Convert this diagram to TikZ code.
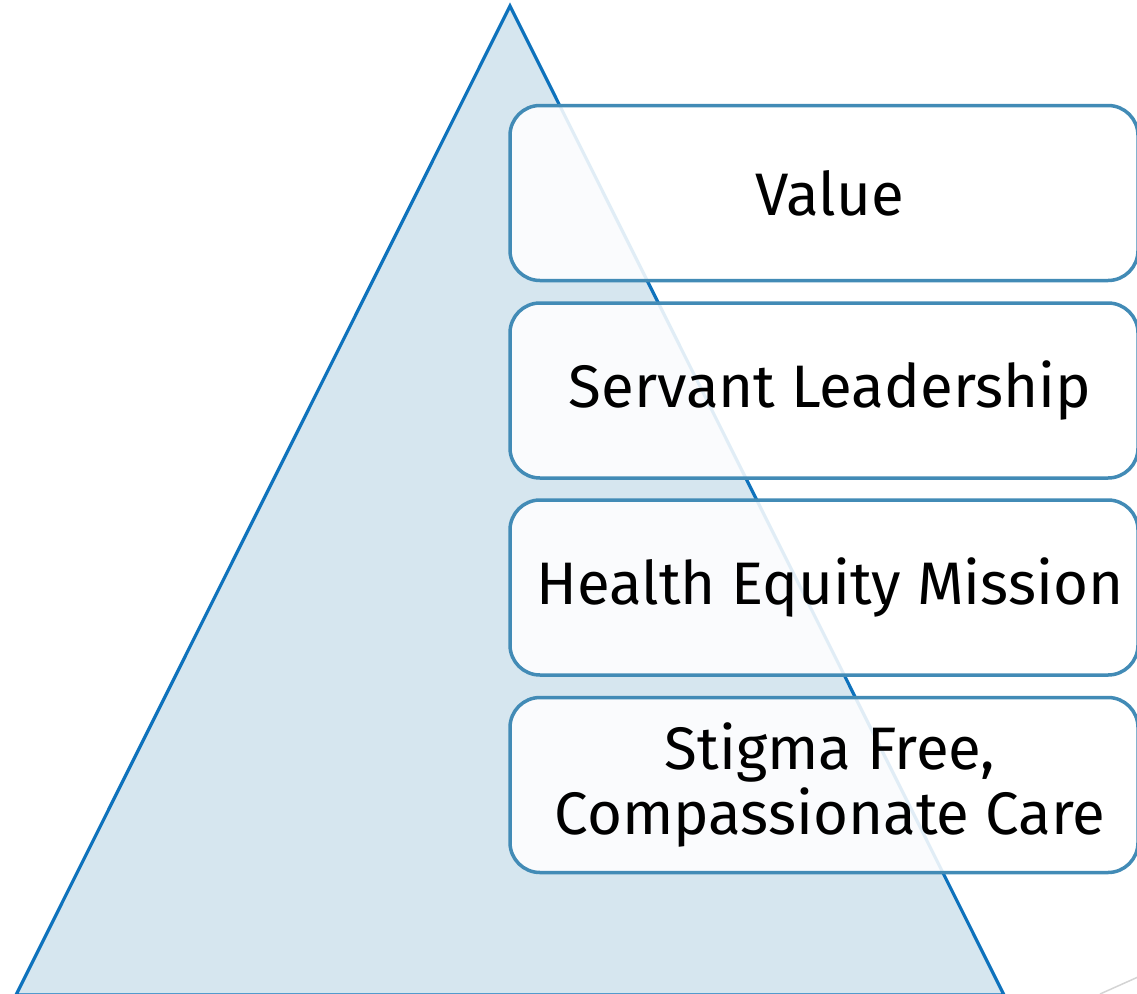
\documentclass[tikz,border=0pt]{standalone}
\usepackage{fontspec}
\setmainfont{Fira Sans}
\definecolor{pyrfill}{HTML}{D6E6EF}
\definecolor{pyredge}{HTML}{0E72BC}
\definecolor{boxedge}{HTML}{428BB6}
\definecolor{faint}{HTML}{D4D4D4}
\tikzset{
  tier/.style={draw=boxedge, line width=3.5pt, rounded corners=30pt,
    fill=white, fill opacity=0.88,
    minimum width=628pt, minimum height=175pt, inner sep=0pt},
  tiertext/.style={align=center, inner sep=0pt,
    font=\fontsize{60}{65}\selectfont},
}
\begin{document}
\begin{tikzpicture}[x=1pt,y=-1pt]
\useasboundingbox (0,0) rectangle (1137,993);
\clip (0,0) rectangle (1137,993);
% pyramid
\draw[fill=pyrfill, draw=pyredge, line width=3.2pt, line join=miter]
  (510,6) coordinate (apex) -- (1004,995) coordinate (br) -- (16,995) coordinate (bl) -- cycle;
% tiers
\node[tier] (t1) at (824,193) {};
\node[tier] (t2) at (824,390.5) {};
\node[tier] (t3) at (824,587.5) {};
\node[tier] (t4) at (824,785) {};
% tier labels
\node[tiertext] (l1) at ([xshift=6pt]t1.center) {Value};
\node[tiertext] (l2) at ([xshift=6pt]t2.center) {Servant Leadership};
\node[tiertext] (l3) at ([xshift=6pt]t3.center) {Health Equity Mission};
\node[tiertext] (l4) at ([xshift=6pt]t4.center) {Stigma Free,\\Compassionate Care};
% corner stroke
\coordinate (c1) at (1100,994);
\coordinate (c2) at (1138,977);
\draw[faint, line width=1.5pt] (c1) -- (c2);
\end{tikzpicture}
\end{document}
